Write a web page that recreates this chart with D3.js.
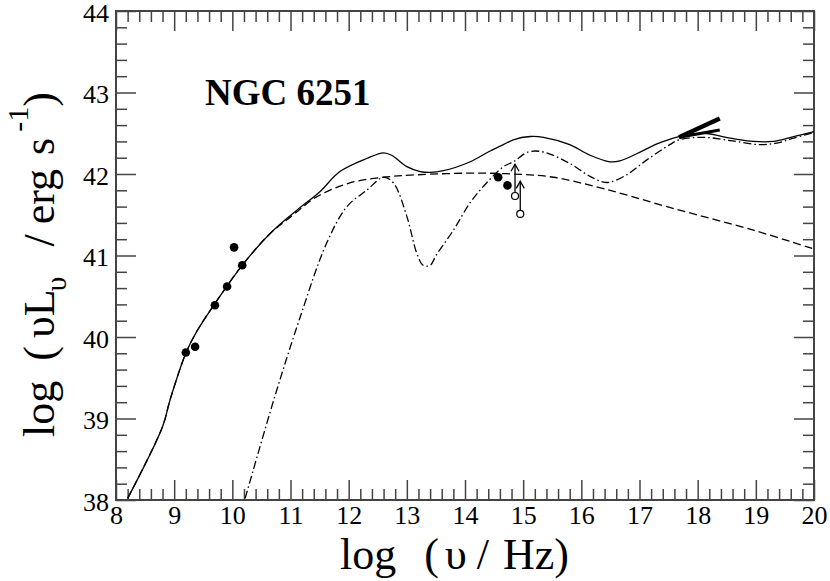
<!DOCTYPE html>
<html><head><meta charset="utf-8">
<script src="https://cdn.jsdelivr.net/npm/d3@7"></script>
<style>body{margin:0;background:#fff}</style>
</head><body>
<svg id="c" width="830" height="581"></svg>
<script>
// ---- data ----
const totalX = [8.20,8.80,8.93,9.20,9.39,9.70,10.17,10.65,11.10,11.50,11.85,12.31,12.60,12.74,13.0,13.23,13.40,13.63,14.09,14.40,14.66,14.83,15.12,15.35,15.80,16.15,16.49,16.66,17.07,17.30,17.68,18.10,18.56,18.96,19.30,19.65,20.0];
const totalY = [38.02,38.90,39.23,39.80,40.07,40.41,40.88,41.27,41.55,41.78,42.03,42.19,42.26,42.23,42.09,42.03,42.02,42.04,42.15,42.27,42.36,42.42,42.46,42.45,42.36,42.23,42.15,42.16,42.29,42.37,42.46,42.50,42.44,42.40,42.40,42.46,42.52];
const syncX = [8.20,8.80,8.93,9.20,9.39,9.70,10.17,10.65,11.05,11.45,12.02,12.60,13.17,14.09,14.83,15.52,16.38,17.52,18.96,20.0];
const syncY = [38.02,38.90,39.23,39.80,40.07,40.41,40.88,41.27,41.50,41.72,41.89,41.96,41.99,42.01,42.00,41.96,41.82,41.59,41.31,41.08];
const thermX = [10.22,10.73,11.16,11.62,11.97,12.31,12.60,12.77,13.0,13.17,13.28,13.40,13.51,13.80,14.09,14.37,14.66,14.83,15.09,15.35,15.80,16.15,16.38,16.49,16.78,17.12,17.52,17.68,18.10,18.56,19.07,19.36,19.65,20.0];
const thermY = [38.02,39.27,40.23,41.15,41.60,41.80,41.96,41.89,41.48,41.03,40.88,40.88,41.01,41.31,41.65,41.89,42.09,42.15,42.27,42.27,42.13,41.97,41.90,41.90,41.99,42.17,42.36,42.42,42.45,42.41,42.36,42.38,42.44,42.51];
const obsX = [9.20,9.36,9.70,9.91,10.03,10.17,14.57,14.73];
const obsY = [39.81,39.88,40.39,40.62,41.10,40.88,41.96,41.86];
const limX = [14.86,14.95];
const limY = [41.73,41.51];
const limTopY = [42.12,41.91];
const xrayX = [17.68,18.38,18.38];
const xrayY = [42.45,42.68,42.54];
const xTicks = [8,9,10,11,12,13,14,15,16,17,18,19,20];
const yTicks = [38,39,40,41,42,43,44];
const title = "NGC 6251";

// ---- layout ----
const svg = d3.select("#c");
const L=116, R=814, T=11, B=500;
const x = d3.scaleLinear().domain([8,20]).range([L,R]);
const y = d3.scaleLinear().domain([38,44]).range([B,T]);
const font = "Liberation Serif, Times New Roman, serif";
const frameCol = "#444";

const xMinor = d3.range(8,20.001,0.2).filter(v=>Math.abs(v-Math.round(v))>1e-6);
const yMinor = d3.range(38,44.001,0.2).filter(v=>Math.abs(v-Math.round(v))>1e-6);

function styleAxis(g){
  g.attr("font-family",font).attr("font-size",26);
  g.select(".domain").remove();
  g.selectAll("line").attr("stroke",frameCol).attr("stroke-width",1.5);
  g.selectAll("text").attr("fill","#000");
}
// bottom
const xAx = svg.append("g").attr("transform",`translate(0,${B})`)
  .call(d3.axisBottom(x).tickValues(xTicks).tickSize(-20).tickPadding(6).tickFormat(d3.format("d"))).call(styleAxis);
xAx.selectAll("text").attr("dy","0.7em");
svg.append("g").attr("transform",`translate(0,${B})`)
  .call(d3.axisBottom(x).tickValues(xMinor).tickSize(-11).tickFormat("")).call(styleAxis);
// top
svg.append("g").attr("transform",`translate(0,${T})`)
  .call(d3.axisTop(x).tickValues(xTicks).tickSize(-20).tickFormat("")).call(styleAxis);
svg.append("g").attr("transform",`translate(0,${T})`)
  .call(d3.axisTop(x).tickValues(xMinor).tickSize(-11).tickFormat("")).call(styleAxis);
// left
const yAx = svg.append("g").attr("transform",`translate(${L},0)`)
  .call(d3.axisLeft(y).tickValues(yTicks).tickSize(-20).tickPadding(7).tickFormat(d3.format("d"))).call(styleAxis);
yAx.selectAll("text").attr("dy","0.4em");
svg.append("g").attr("transform",`translate(${L},0)`)
  .call(d3.axisLeft(y).tickValues(yMinor).tickSize(-11).tickFormat("")).call(styleAxis);
// right
svg.append("g").attr("transform",`translate(${R},0)`)
  .call(d3.axisRight(y).tickValues(yTicks).tickSize(-20).tickFormat("")).call(styleAxis);
svg.append("g").attr("transform",`translate(${R},0)`)
  .call(d3.axisRight(y).tickValues(yMinor).tickSize(-11).tickFormat("")).call(styleAxis);

svg.append("rect").attr("x",L).attr("y",T).attr("width",R-L).attr("height",B-T)
  .attr("fill","none").attr("stroke",frameCol).attr("stroke-width",2);

// clip
svg.append("clipPath").attr("id","clip").append("rect").attr("x",L).attr("y",T).attr("width",R-L).attr("height",B-T);
const plot = svg.append("g").attr("clip-path","url(#clip)");

const line = d3.line().x(d=>x(d[0])).y(d=>y(d[1])).curve(d3.curveCatmullRom.alpha(0.5));
function drawLine(xs,ys,dash){
  plot.append("path").datum(xs.map((v,i)=>[v,ys[i]])).attr("d",line)
    .attr("fill","none").attr("stroke","#000").attr("stroke-width",1.3)
    .attr("stroke-dasharray",dash||null);
}
drawLine(syncX,syncY,"8,4");
drawLine(thermX,thermY,"8,3,1.5,3");
drawLine(totalX,totalY,null);

// x-ray bowtie
plot.append("line").attr("x1",x(xrayX[0])).attr("y1",y(xrayY[0])).attr("x2",x(xrayX[1])).attr("y2",y(xrayY[1]))
  .attr("stroke","#000").attr("stroke-width",4.5);
plot.append("line").attr("x1",x(xrayX[0])).attr("y1",y(xrayY[0])).attr("x2",x(xrayX[2])).attr("y2",y(xrayY[2]))
  .attr("stroke","#000").attr("stroke-width",3);

// observed points
plot.selectAll("circle.obs").data(obsX.map((v,i)=>[v,obsY[i]])).enter().append("circle")
  .attr("cx",d=>x(d[0])).attr("cy",d=>y(d[1])).attr("r",4.3).attr("fill","#000");

// lower limits
limX.forEach((v,i)=>{
  const cx=x(v), cy=y(limY[i]), ty=y(limTopY[i]);
  plot.append("line").attr("x1",cx).attr("y1",cy-3.5).attr("x2",cx).attr("y2",ty)
    .attr("stroke","#000").attr("stroke-width",1.3);
  plot.append("path").attr("d",`M${cx-4},${ty+7}L${cx},${ty}L${cx+4},${ty+7}`)
    .attr("fill","none").attr("stroke","#000").attr("stroke-width",1.3);
  plot.append("circle").attr("cx",cx).attr("cy",cy).attr("r",3.5)
    .attr("fill","#fff").attr("stroke","#000").attr("stroke-width",1.2);
});

// title
svg.append("text").attr("x",205).attr("y",105).attr("font-family",font).attr("font-weight","bold")
  .attr("font-size",37).text(title);

// x axis title
const xt = svg.append("text").attr("x",340).attr("y",569)
  .attr("font-family",font).attr("font-size",44);
xt.append("tspan").text("log");
xt.append("tspan").attr("dx",28).text("(");
xt.append("tspan").attr("dx",6).text("υ");
xt.append("tspan").attr("dx",10).text("/");
xt.append("tspan").attr("dx",14).text("Hz)");

// y axis title
const yt = svg.append("text").attr("transform","translate(54,437) rotate(-90)")
  .attr("font-family",font).attr("font-size",44);
yt.append("tspan").text("log");
yt.append("tspan").attr("dx",20).text("(");
yt.append("tspan").attr("dx",8).text("υL");
yt.append("tspan").attr("font-size",30).attr("dy",12).attr("dx",-2).text("υ");
yt.append("tspan").attr("dy",-12).attr("dx",30).text("/");
yt.append("tspan").attr("dx",10).text("erg");
yt.append("tspan").attr("dx",14).text("s");
yt.append("tspan").attr("font-size",30).attr("dy",-26).attr("dx",6).text("-1");
yt.append("tspan").attr("dy",26).attr("dx",0).text(")");
</script>
</body></html>
